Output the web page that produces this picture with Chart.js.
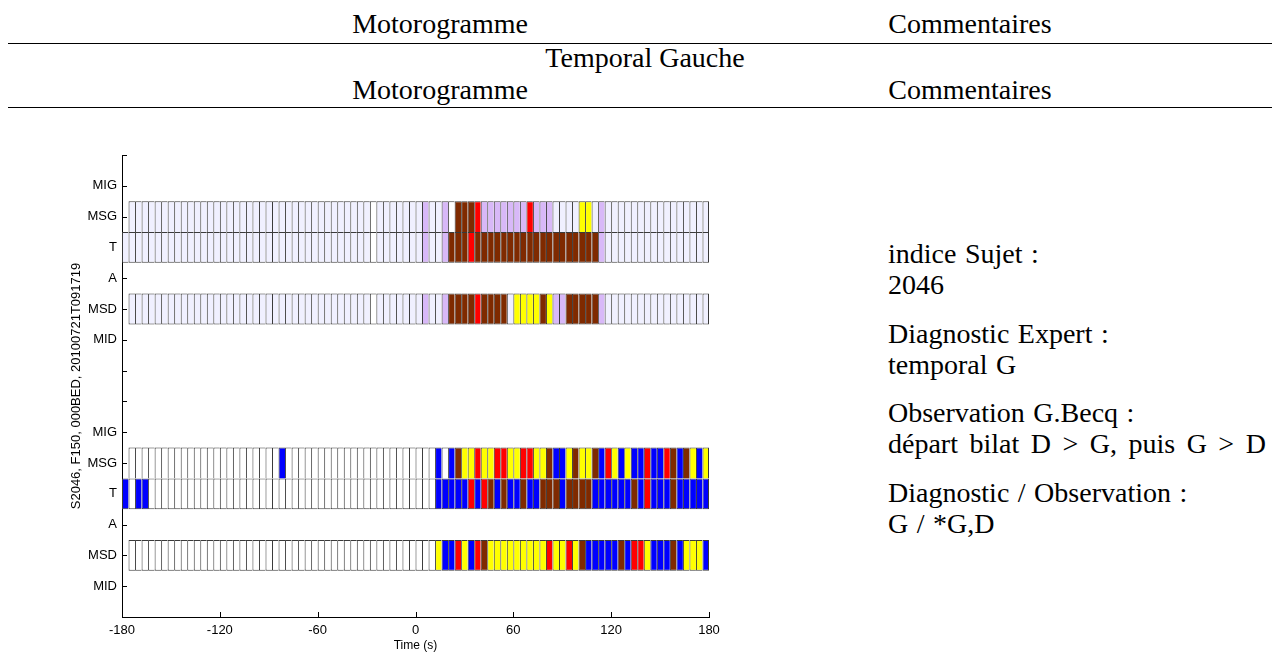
<!DOCTYPE html>
<html>
<head>
<meta charset="utf-8">
<script src="https://cdn.jsdelivr.net/npm/chart.js@4/dist/chart.umd.min.js"></script>
<style>
  body { margin: 0; background: #fff; width: 1272px; height: 653px; overflow: hidden; position: relative;
         font-family: "Liberation Serif", "DejaVu Serif", serif; color: #000; }
  .tx { position: absolute; font-size: 28px; line-height: 28px; white-space: nowrap; }
  .mid { transform: translateX(-50%); }
  .note { left: 888px; word-spacing: 1.5px; }
  .rule { position: absolute; left: 8px; right: 0; height: 1.4px; background: #000; }
  #wrap { position: absolute; left: 0; top: 140px; width: 730px; height: 513px; }
</style>
</head>
<body>
<div class="tx mid" style="left:440px; top:10px">Motorogramme</div>
<div class="tx mid" style="left:970px; top:10px">Commentaires</div>
<div class="rule" style="top:43px"></div>
<div class="tx mid" style="left:645px; top:44px">Temporal Gauche</div>
<div class="tx mid" style="left:440px; top:76px">Motorogramme</div>
<div class="tx mid" style="left:970px; top:76px">Commentaires</div>
<div class="rule" style="top:107px"></div>

<div class="tx note" style="top:240px">indice Sujet :</div>
<div class="tx note" style="top:271px">2046</div>
<div class="tx note" style="top:320px">Diagnostic Expert :</div>
<div class="tx note" style="top:351px">temporal G</div>
<div class="tx note" style="top:399px">Observation G.Becq :</div>
<div class="tx note" style="top:430px; word-spacing:4.5px">départ bilat D &gt; G, puis G &gt; D</div>
<div class="tx note" style="top:479px">Diagnostic / Observation :</div>
<div class="tx note" style="top:510px">G / *G,D</div>

<div id="wrap"><canvas id="motor" width="730" height="513"></canvas></div>

<script>
// one cell = 4 s, 90 cells from -180 s to +180 s
const timeStart = -180;
const cellSeconds = 4;

// row labels on the y axis, index = y value
const rowNames = ['', 'MIG', 'MSG', 'T', 'A', 'MSD', 'MID', '', '', 'MIG', 'MSG', 'T', 'A', 'MSD', 'MID', ''];

// state codes: p pale, w white, v violet, b brown, r red, y yellow, u blue, - no cell
const stateColors = {
    p: '#f0f0ff', w: '#ffffff', v: '#d8b8f8', b: '#7f2a00',
    r: '#ff0000', y: '#ffff00', u: '#0000ff'
};

const cells = s => s.replace(/ /g, '').split('');

// upper panel
const topMSG = cells('-ppppppppp pppppppppp pppppppppp ppppppppwp ppppppvppv wbbbrvvvvv vvrvvvpppp yypvpppppp pppppppppp');
const topT   = cells('pppppppppp pppppppppp pppppppppp ppppppppwp ppppppvppv bbbrbbbbbb bbbbbbbbbb bbbvpppppp pppppppppp');
const topMSD = cells('-ppppppppp pppppppppp pppppppppp ppppppppwp ppppppvppv bbbbrbbbbp yyyybyvvbb bbbvpppppp pppppppppp');

// lower panel
const botMSG = cells('-wwwwwwwww wwwwwwwwww wwwwuwwwww wwwwwwwwww wwwwwwwwuw ubyyryyrry yrryybuuyb yyburyuyuu ruurbubyuy');
const botT   = cells('uwuuwwwwww wwwwwwwwww wwwwwwwwww wwwwwwwwww wwwwwwwwuu uuururbubu ubuubbbubb bbuuuuuubu ruuubuuuuu');
const botMSD = cells('-wwwwwwwww wwwwwwwwww wwwwwwwwww wwwwwwwwww wwwwwwwwyu uryurbyyyy yyyyyryyry buuuuuburr yuuubuyyyu');

function rowDataset(codes, row, closeBottom) {
    const data = [];
    const colors = [];
    codes.forEach((c, k) => {
        if (c === '-') return;
        const t0 = timeStart + k * cellSeconds;
        data.push({ x: [t0, t0 + cellSeconds], y: row });
        colors.push(stateColors[c]);
    });
    return {
        data: data,
        backgroundColor: colors,
        borderColor: '#3a3a3a',
        borderSkipped: false,
        borderWidth: ctx => ({
            left: 1, top: 1,
            right: ctx.dataIndex === data.length - 1 ? 1 : 0,
            bottom: closeBottom ? 1 : 0
        }),
        inflateAmount: 0,
        grouped: false,
        barPercentage: 1,
        categoryPercentage: 1
    };
}

// MATLAB style ticks pointing into the plot
const innerTicks = {
    id: 'innerTicks',
    beforeDatasetsDraw(chart) {
        const { ctx, chartArea, scales } = chart;
        ctx.save();
        ctx.strokeStyle = '#000';
        ctx.lineWidth = 1;
        ctx.beginPath();
        scales.x.ticks.forEach(t => {
            const px = Math.round(scales.x.getPixelForValue(t.value)) + 0.5;
            ctx.moveTo(px, chartArea.bottom);
            ctx.lineTo(px, chartArea.bottom - 5);
        });
        scales.y.ticks.forEach(t => {
            const py = Math.round(scales.y.getPixelForValue(t.value)) + 0.5;
            ctx.moveTo(chartArea.left, py);
            ctx.lineTo(chartArea.left + 5, py);
        });
        ctx.stroke();
        ctx.restore();
    }
};

Chart.defaults.font.family = '"Liberation Sans", Arial, sans-serif';
Chart.defaults.font.size = 13;
Chart.defaults.color = '#000';

new Chart(document.getElementById('motor'), {
    type: 'bar',
    data: {
        datasets: [
            rowDataset(topMSG, 2, false),
            rowDataset(topT, 3, true),
            rowDataset(topMSD, 5, true),
            rowDataset(botMSG, 10, false),
            rowDataset(botT, 11, true),
            rowDataset(botMSD, 13, true)
        ]
    },
    options: {
        indexAxis: 'y',
        responsive: false,
        animation: false,
        layout: { padding: { top: 15, right: 21, left: 0, bottom: 0 } },
        plugins: { legend: { display: false }, tooltip: { enabled: false } },
        scales: {
            x: {
                type: 'linear',
                min: -180,
                max: 180,
                offset: false,
                grid: { display: false, drawTicks: false },
                border: { display: true, color: '#000', width: 1 },
                ticks: { stepSize: 60, padding: 6, maxRotation: 0 },
                title: { display: true, text: 'Time (s)', font: { size: 12 }, padding: { top: 0, bottom: 0 } },
                afterFit: s => { s.height = 36; }
            },
            y: {
                type: 'linear',
                reverse: true,
                min: 0,
                max: 15,
                offset: false,
                grid: { display: false, drawTicks: false },
                border: { display: true, color: '#000', width: 1 },
                ticks: {
                    stepSize: 1,
                    autoSkip: false,
                    padding: 5,
                    callback: v => rowNames[v] || ''
                },
                title: {
                    display: true,
                    text: 'S2046, F150, 000BED, 20100721T091719',
                    padding: { top: 69, bottom: 0 }
                },
                afterFit: s => { s.width = 122; }
            }
        }
    },
    plugins: [innerTicks]
});
</script>
</body>
</html>
